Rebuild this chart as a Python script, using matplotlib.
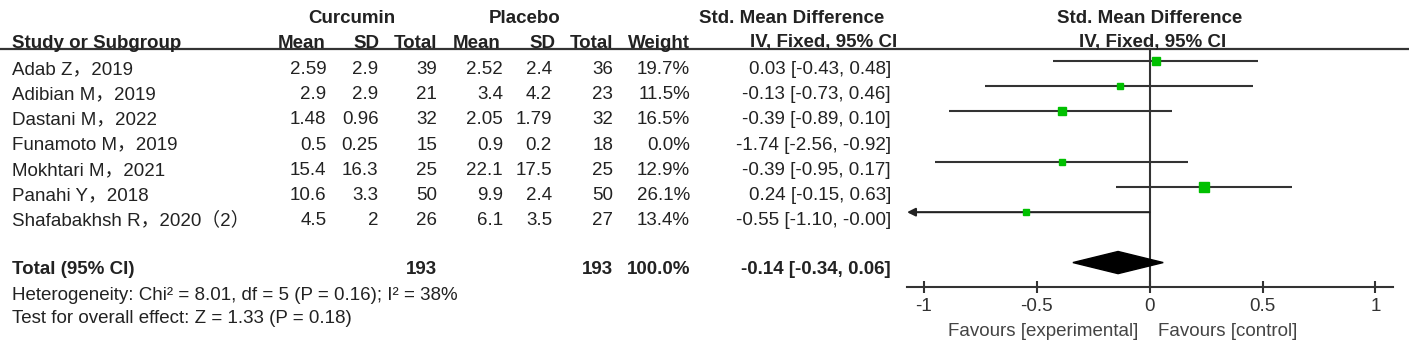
import matplotlib
matplotlib.use("Agg")
import matplotlib.pyplot as plt

plt.rcParams["font.family"] = ["Liberation Sans", "Noto Sans CJK SC"]

# Study data
studies = ["Adab Z，2019", "Adibian M，2019", "Dastani M，2022", "Funamoto M，2019",
           "Mokhtari M，2021", "Panahi Y，2018", "Shafabakhsh R，2020（2）"]
cur_mean = [2.59, 2.9, 1.48, 0.5, 15.4, 10.6, 4.5]
cur_sd = [2.9, 2.9, 0.96, 0.25, 16.3, 3.3, 2]
cur_n = [39, 21, 32, 15, 25, 50, 26]
pla_mean = [2.52, 3.4, 2.05, 0.9, 22.1, 9.9, 6.1]
pla_sd = [2.4, 4.2, 1.79, 0.2, 17.5, 2.4, 3.5]
pla_n = [36, 23, 32, 18, 25, 50, 27]
weight = [19.7, 11.5, 16.5, 0.0, 12.9, 26.1, 13.4]
smd = [0.03, -0.13, -0.39, -1.74, -0.39, 0.24, -0.55]
ci_lo = [-0.43, -0.73, -0.89, -2.56, -0.95, -0.15, -1.10]
ci_hi = [0.48, 0.46, 0.10, -0.92, 0.17, 0.63, -0.00]

total_cur, total_pla = 193, 193
total_smd, total_lo, total_hi = -0.14, -0.34, 0.06
het_text = "Heterogeneity: Chi² = 8.01, df = 5 (P = 0.16); I² = 38%"
test_text = "Test for overall effect: Z = 1.33 (P = 0.18)"

W, H = 1417, 354
fig = plt.figure(figsize=(W / 100, H / 100), dpi=100)
fig.patch.set_facecolor("white")

txt = "#222222"
line_c = "#333333"
fs = 13.5

# table layer in pixel coordinates
tab = fig.add_axes([0, 0, 1, 1])
tab.set_xlim(0, W)
tab.set_ylim(H, 0)
tab.axis("off")

row0, row_h = 74, 25.2  # baseline of first row, row spacing


def base(i):
    return row0 + row_h * i


# headers
for x, lab in [(352, "Curcumin"), (525, "Placebo"), (792, "Std. Mean Difference"),
               (1150, "Std. Mean Difference")]:
    tab.text(x, 22.7, lab, ha="center", va="baseline", fontsize=fs, weight="bold", color=txt)
hy = 47.5
tab.text(12.5, hy, "Study or Subgroup", ha="left", va="baseline", fontsize=fs, weight="bold", color=txt)
col_x = [326.5, 378.5, 437, 503, 552, 613, 690]
head_x = [325.5, 379, 437, 500, 555, 613, 690]
for x, lab in zip(head_x, ["Mean", "SD", "Total", "Mean", "SD", "Total", "Weight"]):
    tab.text(x, hy, lab, ha="right", va="baseline", fontsize=fs, weight="bold", color=txt)
tab.text(897, hy, "IV, Fixed, 95% CI", ha="right", va="baseline", fontsize=fs, weight="bold", color=txt)
tab.text(1153, hy, "IV, Fixed, 95% CI", ha="center", va="baseline", fontsize=fs, weight="bold", color=txt)
tab.plot([0, 1409], [48.5, 48.5], color=line_c, lw=1.6, solid_capstyle="butt")

# study rows
for i, name in enumerate(studies):
    y = base(i)
    tab.text(12.5, y, name, ha="left", va="baseline", fontsize=fs, color=txt)
    vals = [str(cur_mean[i]), str(cur_sd[i]), str(cur_n[i]), str(pla_mean[i]),
            str(pla_sd[i]), str(pla_n[i]), f"{weight[i]:.1f}%"]
    for x, v in zip(col_x, vals):
        tab.text(x, y, v, ha="right", va="baseline", fontsize=fs, color=txt)
    tab.text(891, y, f"{smd[i]:.2f} [{ci_lo[i]:.2f}, {ci_hi[i]:.2f}]",
             ha="right", va="baseline", fontsize=fs, color=txt)

# total row
ty = 274
tab.text(12.5, ty, "Total (95% CI)", ha="left", va="baseline", fontsize=fs, weight="bold", color=txt)
tab.text(col_x[2], ty, str(total_cur), ha="right", va="baseline", fontsize=fs, weight="bold", color=txt)
tab.text(col_x[5], ty, str(total_pla), ha="right", va="baseline", fontsize=fs, weight="bold", color=txt)
tab.text(col_x[6], ty, "100.0%", ha="right", va="baseline", fontsize=fs, weight="bold", color=txt)
tab.text(891, ty, f"{total_smd:.2f} [{total_lo:.2f}, {total_hi:.2f}]",
         ha="right", va="baseline", fontsize=fs, weight="bold", color=txt)
tab.text(12.5, 300, het_text, ha="left", va="baseline", fontsize=fs, color=txt)
tab.text(12.5, 323, test_text, ha="left", va="baseline", fontsize=fs, color=txt)

# favours labels
tab.text(1138, 336, "Favours [experimental]", ha="right", va="baseline", fontsize=fs, color="#444444")
tab.text(1158, 336, "Favours [control]", ha="left", va="baseline", fontsize=fs, color="#444444")

# forest plot
ax = fig.add_axes([907 / W, 1 - 287 / H, 486 / W, (287 - 49) / H])
ax.patch.set_alpha(0)
xmin, xmax = -1.075, 1.078
ax.set_xlim(xmin, xmax)
ax.set_ylim(8.97, -0.476)
for s in ["top", "left", "right"]:
    ax.spines[s].set_visible(False)
ax.spines["bottom"].set_color(line_c)
ax.spines["bottom"].set_linewidth(1.5)
ax.set_yticks([])
ax.set_xticks([-1, -0.5, 0, 0.5, 1])
ax.set_xticklabels(["-1", "-0.5", "0", "0.5", "1"])
ax.tick_params(axis="x", direction="inout", length=9, width=1.5, color=line_c,
               labelsize=fs, labelcolor="#333333", pad=3.5)
ax.axvline(0, color=line_c, lw=1.5)

for i in range(len(studies)):
    if weight[i] <= 0:
        continue
    lo = max(ci_lo[i], xmin)
    hi = min(ci_hi[i], xmax)
    if ci_lo[i] < xmin:
        ax.annotate("", xy=(lo, i), xytext=(hi, i),
                    arrowprops=dict(arrowstyle="-|>", color="#222222", lw=1.5,
                                    mutation_scale=12, shrinkA=0, shrinkB=0))
    else:
        ax.plot([lo, hi], [i, i], color=line_c, lw=1.5, solid_capstyle="butt")
    side = 1.8 * weight[i] ** 0.5 * 0.72
    ax.plot(smd[i], i, marker="s", ms=side, color="#00c000", mec="#00c000", zorder=3)

# pooled diamond
dy = 0.44
ax.fill([total_lo, total_smd, total_hi, total_smd], [8, 8 - dy, 8, 8 + dy],
        color="black", zorder=3)

fig.savefig("out.png", dpi=100)
